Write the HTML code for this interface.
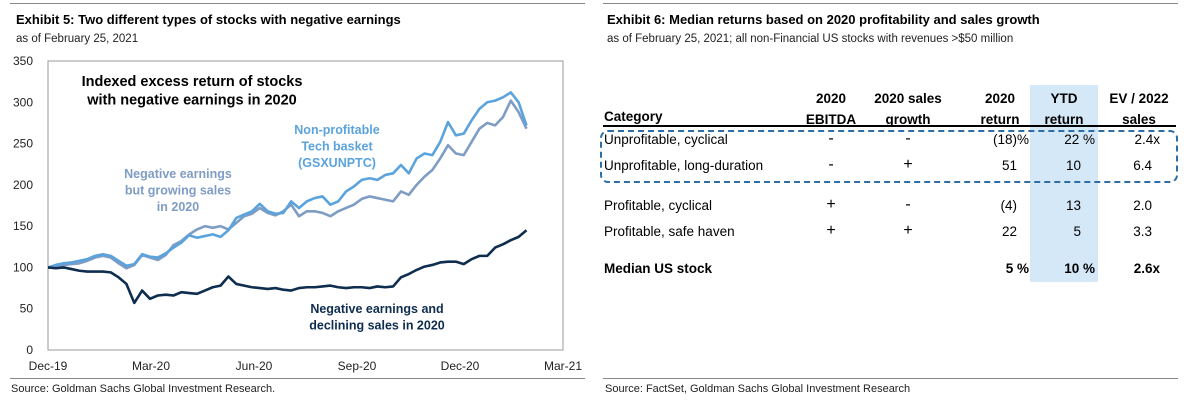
<!DOCTYPE html>
<html><head><meta charset="utf-8">
<style>
body{margin:0;width:1187px;height:405px;background:#fff;font-family:"Liberation Sans",Arial,sans-serif;position:relative;overflow:hidden;color:#000}
.abs{position:absolute;white-space:nowrap}
.t{font-weight:bold;font-size:13px}
.s{font-size:11.5px;color:#222}
.rule{position:absolute;height:1px;background:#888}
.tb{font-size:13.5px}
.b{font-weight:bold}
</style></head><body>
<div class="rule" style="left:10px;top:3px;width:575px"></div>
<div class="rule" style="left:603px;top:3px;width:575px"></div>
<div class="abs t" style="left:16px;top:12px">Exhibit 5: Two different types of stocks with negative earnings</div>
<div class="abs s" style="left:16px;top:33px">as of February 25, 2021</div>
<div class="abs t" style="left:607px;top:12px">Exhibit 6: Median returns based on 2020 profitability and sales growth</div>
<div class="abs s" style="left:607px;top:33px">as of February 25, 2021; all non-Financial US stocks with revenues &gt;$50 million</div>

<svg id="chart" style="position:absolute;left:0;top:0" width="595" height="405"></svg>

<div class="rule" style="left:10px;top:378px;width:575px"></div>
<div class="abs" style="left:11px;top:383px;font-size:11px;color:#222">Source: Goldman Sachs Global Investment Research.</div>
<div class="rule" style="left:603px;top:378px;width:575px"></div>
<div class="abs" style="left:605px;top:383px;font-size:11px;color:#222">Source: FactSet, Goldman Sachs Global Investment Research</div>

<div style="position:absolute;left:1030px;top:85px;width:68px;height:197px;background:#d5e8f8"></div>
<div style="position:absolute;left:600px;top:130px;width:574px;height:49px;border:2.5px dashed #2e6ea6;border-radius:8px"></div>
<div style="position:absolute;left:603px;top:125px;width:573px;height:2px;background:#000"></div>
<div class="abs tb b" style="left:604px;top:109px">Category</div>
<div class="abs tb b" style="left:801px;top:88px;width:60px;text-align:center;line-height:21px">2020<br>EBITDA</div>
<div class="abs tb b" style="left:863px;top:88px;width:90px;text-align:center;line-height:21px">2020 sales<br>growth</div>
<div class="abs tb b" style="left:970px;top:88px;width:60px;text-align:center;line-height:21px">2020<br>return</div>
<div class="abs tb b" style="left:1034px;top:88px;width:60px;text-align:center;line-height:21px">YTD<br>return</div>
<div class="abs tb b" style="left:1104px;top:88px;width:70px;text-align:center;line-height:21px">EV / 2022<br>sales</div>
<div id="rows"></div>

<script>
const categories=["Unprofitable, cyclical","Unprofitable, long-duration","Profitable, cyclical","Profitable, safe haven","Median US stock"];
const ebitda=["-","-","+","+",""];
const salesGrowth=["-","+","-","+",""];
const ret2020=["(18)%","51","(4)","22","5 %"];
const ytd=["22 %","10","13","5","10 %"];
const evSales=["2.4x","6.4","2.0","3.3","2.6x"];
const rowTops=[132,158,198,224,261];
const rows=document.getElementById('rows');
function cell(txt,css,bold,name){const d=document.createElement('div');d.className='abs tb'+(bold?' b':'');d.textContent=txt;d.style.cssText=css;


rows.appendChild(d);}
categories.forEach((c,i)=>{const t=rowTops[i];const b=i===4;
cell(c,`left:604px;top:${t}px`,b,'row-category');
cell(ebitda[i],`left:811px;width:40px;text-align:center;top:${t}px;font-size:16px;margin-top:-2px`,b,'row-ebitda');
cell(salesGrowth[i],`left:888px;width:40px;text-align:center;top:${t}px;font-size:16px;margin-top:-2px`,b,'row-sales-growth');
cell(ret2020[i],`left:968px;width:61px;text-align:right;top:${t}px;padding-right:${/%/.test(ret2020[i])?0:12}px;box-sizing:border-box`,b,'row-2020-return');
cell(ytd[i],`left:1030px;width:65px;text-align:right;top:${t}px;padding-right:${/%/.test(ytd[i])?0:14}px;box-sizing:border-box`,b,'row-ytd-return');
cell(evSales[i],`left:1100px;width:60px;text-align:right;top:${t}px;padding-right:${/x/.test(evSales[i])?0:8}px;box-sizing:border-box`,b,'row-ev-sales');
});
</script>

<script>
const xTicks=["Dec-19","Mar-20","Jun-20","Sep-20","Dec-20","Mar-21"];
const yTicks=[0,50,100,150,200,250,300,350];
const techBasket=[100,103,105,106,108,110,114,116,114,108,102,104,116,113,112,117,124,130,139,136,138,140,137,145,160,164,168,177,168,165,166,180,172,180,184,186,176,180,192,198,206,208,206,212,214,224,214,232,238,236,252,276,260,262,278,292,300,302,306,312,300,272];
const growingSales=[100,101,103,104,105,108,112,114,112,105,99,103,115,112,109,115,127,132,140,146,150,148,150,146,154,162,165,172,166,163,168,176,162,168,168,166,162,168,172,176,183,186,184,182,180,192,188,200,210,218,232,248,238,236,252,268,275,272,282,302,288,268];
const decliningSales=[100,99,100,98,96,95,95,95,94,88,80,57,72,62,66,67,66,70,69,68,72,76,78,89,80,78,76,75,74,75,73,72,75,76,76,77,78,76,75,76,76,75,77,76,77,88,92,97,101,103,106,107,107,104,110,114,114,124,128,133,137,145];
const X0=48,X1=563,Y0=350,Y1=61;
function xw(w){return X0+w*(X1-X0)/65;}
function xq(q){return X0+q*(X1-X0)/5;}
function yv(v){return Y0-(v/350)*(Y0-Y1);}
const svg=document.getElementById('chart');const NS="http://www.w3.org/2000/svg";
function mk(tag,at,name){const e=document.createElementNS(NS,tag);for(const k in at)e.setAttribute(k,at[k]);


svg.appendChild(e);return e;}
mk('rect',{x:X0,y:Y1,width:X1-X0,height:Y0-Y1,fill:'none',stroke:'#999','stroke-width':1},'plot-frame');
yTicks.forEach(v=>{const t=mk('text',{x:33,y:yv(v)+4,'text-anchor':'end','font-size':12,fill:'#222','font-family':'Liberation Sans'},'y-tick-label');t.textContent=v;});
xTicks.forEach((l,i)=>{const t=mk('text',{x:xq(i),y:370,'text-anchor':'middle','font-size':12,fill:'#222','font-family':'Liberation Sans'},'x-tick-label');t.textContent=l;});
function line(data,color,name){mk('polyline',{points:data.map((v,i)=>xw(i*0.99)+','+yv(v)).join(' '),fill:'none',stroke:color,'stroke-width':2.6,'stroke-linejoin':'round'},name);}
line(growingSales,'#7f9cc4','line-growing-sales');
line(techBasket,'#5ba3dc','line-tech-basket');
line(decliningSales,'#0e2d4f','line-declining-sales');
function lbl(lines,x,y,color,size,name,anchor){lines.forEach((s,i)=>{const t=mk('text',{x:x,y:y+i*(size+4),'text-anchor':anchor||'middle','font-size':size,'font-weight':'bold',fill:color,'font-family':'Liberation Sans'},name);t.textContent=s;});}
lbl(["Indexed excess return of stocks","with negative earnings in 2020"],192,86,'#000',14.5,'chart-annotation-title');
lbl(["Non-profitable","Tech basket","(GSXUNPTC)"],337,134,'#5ba3dc',12.5,'label-tech-basket');
lbl(["Negative earnings","but growing sales","in 2020"],178,178,'#7f9cc4',12.5,'label-growing-sales');
lbl(["Negative earnings and","declining sales in 2020"],377,313,'#0e2d4f',12.5,'label-declining-sales');
</script>
</body></html>
